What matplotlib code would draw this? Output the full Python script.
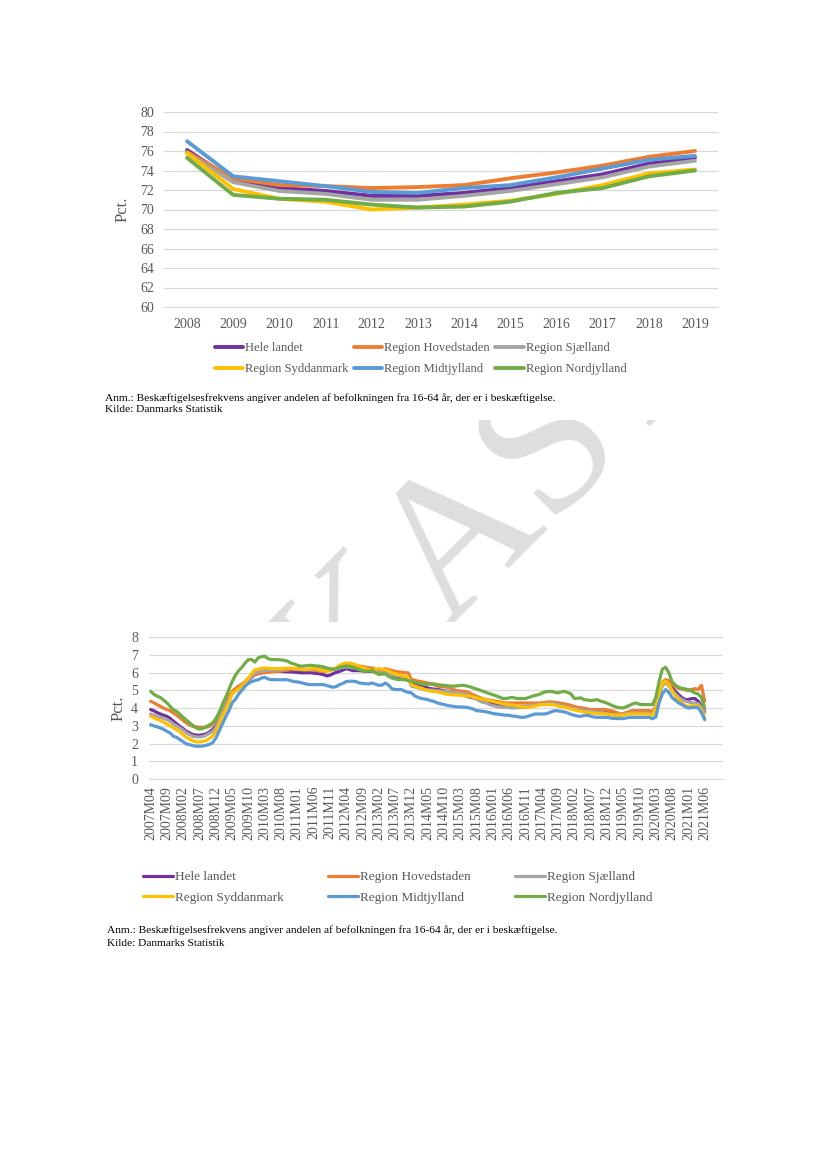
import numpy as np
import matplotlib.pyplot as plt
from matplotlib.transforms import Bbox, TransformedBbox

plt.rcParams['font.family'] = ['Liberation Serif', 'DejaVu Serif']

# --- chart 1: annual employment rate (pct.) ---
years = [str(y) for y in range(2008, 2020)]
hele_landet_aar = [76.1, 73.0, 72.2, 71.9, 71.4, 71.4, 71.7, 72.2, 72.9, 73.6, 74.7, 75.3]
hovedstaden_aar = [75.9, 73.2, 72.5, 72.4, 72.2, 72.3, 72.5, 73.2, 73.8, 74.5, 75.4, 76.0]
sjaelland_aar = [75.8, 72.8, 71.9, 71.6, 71.0, 71.0, 71.4, 71.9, 72.6, 73.3, 74.4, 75.0]
syddanmark_aar = [75.8, 72.1, 71.1, 70.8, 70.0, 70.2, 70.5, 70.9, 71.6, 72.5, 73.7, 74.1]
midtjylland_aar = [77.0, 73.4, 72.9, 72.4, 71.8, 71.7, 72.2, 72.5, 73.3, 74.2, 75.1, 75.5]
nordjylland_aar = [75.3, 71.5, 71.1, 71.0, 70.5, 70.2, 70.3, 70.8, 71.7, 72.2, 73.4, 74.0]

# --- chart 2: monthly values 2007M04 - 2021M06 ---
months = [f"{y}M{m:02d}" for y in range(2007, 2022) for m in range(1, 13)
          if (y, m) >= (2007, 4) and (y, m) <= (2021, 6)]

hele_landet = [
    3.92, 3.85, 3.75, 3.67, 3.6, 3.54, 3.42, 3.26, 3.12,
    2.97, 2.83, 2.69, 2.6, 2.5, 2.48, 2.47, 2.5, 2.54, 2.65, 2.79, 3.0,
    3.35, 3.82, 4.2, 4.5, 4.86, 5.0, 5.15, 5.3, 5.45, 5.6, 5.75, 5.9,
    5.95, 6.0, 6.05, 6.08, 6.08, 6.08, 6.08, 6.08, 6.06, 6.05, 6.05, 6.03,
    6.02, 6.0, 6.0, 6.0, 6.0, 5.98, 5.96, 5.93, 5.9, 5.82, 5.86, 5.95,
    6.02, 6.08, 6.15, 6.23, 6.18, 6.12, 6.12, 6.12, 6.1, 6.08, 6.08, 6.08,
    6.04, 6.0, 6.03, 6.08, 5.95, 5.8, 5.75, 5.7, 5.66, 5.63, 5.61, 5.42,
    5.36, 5.29, 5.25, 5.18, 5.14, 5.1, 5.07, 5.05, 5.02, 4.98, 4.95, 4.92,
    4.89, 4.86, 4.82, 4.75, 4.67, 4.62, 4.58, 4.54, 4.48, 4.42, 4.35, 4.3,
    4.27, 4.24, 4.2, 4.15, 4.1, 4.1, 4.08, 4.05, 4.05, 4.05, 4.05, 4.1,
    4.15, 4.2, 4.24, 4.26, 4.28, 4.29, 4.29, 4.27, 4.22, 4.18, 4.16, 4.12,
    4.08, 4.03, 3.97, 3.95, 3.92, 3.9, 3.86, 3.85, 3.83, 3.81, 3.79, 3.75,
    3.7, 3.65, 3.6, 3.6, 3.65, 3.7, 3.73, 3.73, 3.73, 3.73, 3.73, 3.73,
    3.72, 3.67, 4.05, 4.8, 5.33, 5.52, 5.3, 5.14, 4.95, 4.76, 4.6, 4.48,
    4.48, 4.54, 4.54, 4.39, 4.1, 3.82]
hovedstaden = [
    4.39, 4.3, 4.2, 4.1, 4.0, 3.92, 3.85, 3.73, 3.6,
    3.45, 3.3, 3.16, 3.05, 2.97, 2.94, 2.92, 2.92, 2.92, 2.97, 3.1, 3.3,
    3.65, 4.0, 4.3, 4.65, 4.95, 5.1, 5.25, 5.35, 5.5, 5.7, 5.8, 5.9,
    5.95, 5.98, 6.0, 6.02, 6.05, 6.06, 6.08, 6.1, 6.12, 6.15, 6.18, 6.18,
    6.18, 6.18, 6.18, 6.18, 6.18, 6.15, 6.12, 6.1, 6.08, 6.1, 6.15, 6.22,
    6.25, 6.31, 6.38, 6.46, 6.45, 6.42, 6.4, 6.37, 6.35, 6.31, 6.28, 6.27,
    6.2, 6.12, 6.18, 6.23, 6.18, 6.12, 6.08, 6.05, 6.03, 6.0, 6.0, 5.61,
    5.58, 5.52, 5.5, 5.45, 5.42, 5.38, 5.32, 5.24, 5.22, 5.2, 5.18, 5.12,
    5.05, 4.99, 4.97, 4.95, 4.92, 4.85, 4.75, 4.67, 4.6, 4.52, 4.48, 4.45,
    4.42, 4.39, 4.36, 4.32, 4.29, 4.29, 4.29, 4.29, 4.29, 4.29, 4.29, 4.29,
    4.29, 4.29, 4.29, 4.3, 4.32, 4.35, 4.35, 4.33, 4.3, 4.27, 4.24, 4.2,
    4.15, 4.1, 4.05, 4.02, 4.0, 3.96, 3.92, 3.92, 3.92, 3.92, 3.92, 3.9,
    3.86, 3.82, 3.75, 3.67, 3.7, 3.75, 3.82, 3.86, 3.86, 3.86, 3.86, 3.86,
    3.86, 3.82, 4.1, 4.9, 5.45, 5.61, 5.56, 5.35, 5.2, 5.12, 5.08, 5.03,
    4.99, 5.05, 5.1, 5.05, 5.29, 4.39]
sjaelland = [
    3.67, 3.6, 3.52, 3.48, 3.42, 3.35, 3.25, 3.1, 3.0,
    2.88, 2.75, 2.6, 2.5, 2.41, 2.38, 2.37, 2.4, 2.47, 2.58, 2.69, 2.9,
    3.3, 3.73, 4.1, 4.45, 4.8, 4.95, 5.1, 5.25, 5.45, 5.61, 5.8, 6.0,
    6.05, 6.1, 6.12, 6.13, 6.14, 6.15, 6.16, 6.18, 6.2, 6.22, 6.23, 6.23,
    6.21, 6.2, 6.18, 6.18, 6.18, 6.2, 6.22, 6.23, 6.2, 6.18, 6.15, 6.18,
    6.22, 6.27, 6.31, 6.31, 6.3, 6.28, 6.25, 6.23, 6.2, 6.18, 6.15, 6.1,
    6.05, 6.0, 6.02, 6.05, 5.95, 5.9, 5.85, 5.82, 5.8, 5.78, 5.75, 5.24,
    5.2, 5.15, 5.1, 5.05, 5.03, 5.02, 5.0, 4.98, 4.97, 4.96, 4.95, 4.92,
    4.9, 4.87, 4.84, 4.8, 4.76, 4.7, 4.6, 4.5, 4.4, 4.32, 4.29, 4.2,
    4.15, 4.1, 4.07, 4.05, 4.05, 4.03, 4.01, 4.02, 4.05, 4.08, 4.1, 4.12,
    4.15, 4.18, 4.2, 4.22, 4.25, 4.27, 4.27, 4.25, 4.2, 4.15, 4.1, 4.05,
    4.0, 3.97, 3.93, 3.9, 3.88, 3.85, 3.82, 3.8, 3.78, 3.76, 3.74, 3.7,
    3.66, 3.62, 3.6, 3.6, 3.65, 3.7, 3.72, 3.72, 3.72, 3.72, 3.72, 3.72,
    3.7, 3.65, 4.0, 4.7, 5.25, 5.45, 5.25, 5.0, 4.8, 4.62, 4.5, 4.4,
    4.35, 4.3, 4.3, 4.25, 4.05, 3.75]
syddanmark = [
    3.54, 3.45, 3.38, 3.3, 3.2, 3.1, 3.0, 2.88, 2.78,
    2.66, 2.5, 2.35, 2.25, 2.15, 2.1, 2.09, 2.12, 2.17, 2.28, 2.41, 2.7,
    3.1, 3.54, 3.9, 4.3, 4.86, 4.95, 5.1, 5.24, 5.45, 5.7, 5.95, 6.18,
    6.2, 6.25, 6.27, 6.25, 6.24, 6.23, 6.23, 6.23, 6.25, 6.26, 6.27, 6.25,
    6.22, 6.2, 6.18, 6.18, 6.22, 6.27, 6.2, 6.15, 6.12, 6.08, 6.12, 6.18,
    6.3, 6.42, 6.5, 6.55, 6.53, 6.5, 6.45, 6.37, 6.3, 6.23, 6.18, 6.12,
    6.18, 6.23, 6.2, 6.18, 6.1, 6.0, 5.95, 5.9, 5.85, 5.8, 5.74, 5.33,
    5.25, 5.18, 5.14, 5.06, 4.99, 4.96, 4.94, 4.92, 4.88, 4.82, 4.78, 4.76,
    4.75, 4.74, 4.73, 4.7, 4.68, 4.67, 4.62, 4.57, 4.54, 4.5, 4.46, 4.43,
    4.38, 4.33, 4.29, 4.25, 4.22, 4.2, 4.18, 4.16, 4.1, 4.05, 4.05, 4.05,
    4.08, 4.12, 4.18, 4.2, 4.2, 4.2, 4.2, 4.18, 4.12, 4.08, 4.05, 4.0,
    3.95, 3.9, 3.86, 3.82, 3.78, 3.76, 3.73, 3.72, 3.7, 3.68, 3.67, 3.66,
    3.64, 3.62, 3.6, 3.6, 3.62, 3.65, 3.67, 3.67, 3.67, 3.67, 3.67, 3.67,
    3.65, 3.6, 4.0, 4.9, 5.4, 5.52, 5.33, 5.0, 4.7, 4.5, 4.3, 4.15,
    4.1, 4.12, 4.16, 4.12, 3.9, 3.45]
midtjylland = [
    3.07, 3.0, 2.95, 2.88, 2.8, 2.69, 2.6, 2.41, 2.35,
    2.22, 2.1, 1.98, 1.94, 1.88, 1.85, 1.85, 1.86, 1.9, 1.95, 2.05, 2.3,
    2.7, 3.1, 3.5, 3.85, 4.3, 4.5, 4.8, 5.0, 5.24, 5.4, 5.5, 5.56,
    5.6, 5.7, 5.74, 5.65, 5.61, 5.61, 5.61, 5.6, 5.61, 5.6, 5.55, 5.5,
    5.48, 5.45, 5.4, 5.35, 5.33, 5.33, 5.33, 5.33, 5.33, 5.28, 5.22, 5.18,
    5.22, 5.33, 5.4, 5.5, 5.52, 5.52, 5.5, 5.42, 5.4, 5.38, 5.37, 5.42,
    5.35, 5.29, 5.3, 5.42, 5.3, 5.1, 5.05, 5.05, 5.05, 4.95, 4.9, 4.86,
    4.7, 4.61, 4.55, 4.52, 4.48, 4.42, 4.38, 4.29, 4.25, 4.2, 4.16, 4.12,
    4.1, 4.07, 4.07, 4.06, 4.05, 4.0, 3.95, 3.86, 3.84, 3.82, 3.79, 3.75,
    3.7, 3.67, 3.65, 3.62, 3.6, 3.6, 3.55, 3.54, 3.5, 3.48, 3.5, 3.55,
    3.62, 3.67, 3.67, 3.67, 3.67, 3.72, 3.8, 3.86, 3.84, 3.82, 3.78, 3.73,
    3.65, 3.6, 3.55, 3.54, 3.58, 3.6, 3.55, 3.5, 3.48, 3.48, 3.48, 3.48,
    3.45, 3.42, 3.41, 3.41, 3.41, 3.45, 3.48, 3.48, 3.48, 3.48, 3.48, 3.48,
    3.48, 3.4, 3.5, 4.3, 4.8, 5.05, 4.9, 4.6, 4.45, 4.3, 4.2, 4.08,
    4.01, 4.03, 4.05, 4.02, 3.75, 3.35]
nordjylland = [
    4.95, 4.78, 4.68, 4.6, 4.45, 4.3, 4.1, 3.9, 3.82,
    3.65, 3.48, 3.32, 3.16, 3.02, 2.88, 2.82, 2.85, 2.95, 3.05, 3.16, 3.4,
    3.75, 4.2, 4.6, 5.05, 5.5, 5.85, 6.12, 6.3, 6.55, 6.74, 6.74, 6.6,
    6.84, 6.9, 6.93, 6.8, 6.74, 6.74, 6.74, 6.72, 6.7, 6.65, 6.55, 6.5,
    6.42, 6.37, 6.38, 6.4, 6.42, 6.4, 6.38, 6.37, 6.33, 6.27, 6.23, 6.18,
    6.22, 6.31, 6.35, 6.37, 6.35, 6.31, 6.25, 6.18, 6.12, 6.08, 6.1, 6.12,
    6.0, 5.9, 5.92, 5.93, 5.8, 5.7, 5.65, 5.61, 5.61, 5.6, 5.55, 5.52,
    5.48, 5.42, 5.38, 5.33, 5.35, 5.36, 5.37, 5.33, 5.3, 5.29, 5.27, 5.25,
    5.24, 5.26, 5.28, 5.29, 5.25, 5.2, 5.14, 5.08, 5.02, 4.95, 4.88, 4.82,
    4.76, 4.7, 4.62, 4.55, 4.54, 4.58, 4.61, 4.56, 4.54, 4.54, 4.54, 4.6,
    4.67, 4.72, 4.76, 4.84, 4.92, 4.94, 4.95, 4.9, 4.86, 4.92, 4.95, 4.88,
    4.8, 4.55, 4.56, 4.58, 4.48, 4.46, 4.43, 4.45, 4.48, 4.4, 4.35, 4.28,
    4.2, 4.12, 4.05, 4.02, 4.01, 4.08, 4.16, 4.25, 4.29, 4.22, 4.2, 4.2,
    4.2, 4.2, 4.6, 5.5, 6.2, 6.31, 6.0, 5.5, 5.3, 5.18, 5.12, 5.08,
    5.05, 4.96, 4.86, 4.8, 4.6, 4.01]

names = ['Hele landet', 'Region Hovedstaden', 'Region Sjælland',
         'Region Syddanmark', 'Region Midtjylland', 'Region Nordjylland']
colors = ['#7030A0', '#ED7D31', '#A5A5A5', '#FFC000', '#5B9BD5', '#70AD47']

note = 'Anm.: Beskæftigelsesfrekvens angiver andelen af befolkningen fra 16-64 år, der er i beskæftigelse.'
source = 'Kilde: Danmarks Statistik'

grey = '#595959'
W, H = 827, 1169


def box(l, t, r, b):
    # page pixels -> figure fraction
    return [l / W, 1 - b / H, (r - l) / W, (b - t) / H]


fig = plt.figure(figsize=(W / 100, H / 100), dpi=100)

# watermark, only visible in the gap between the two charts
wm = fig.text(392 / W, 1 - 612 / H, 'UDKAST', fontsize=145, color='#dedede',
              rotation=45, rotation_mode='anchor', ha='center', va='center', zorder=0)
wm.set_clip_box(TransformedBbox(Bbox([[0, 1 - 622 / H], [1, 1 - 420 / H]]), fig.transFigure))


def style(ax, lblx):
    for s in ['top', 'right', 'left']:
        ax.spines[s].set_visible(False)
    ax.spines['bottom'].set_color('#d9d9d9')
    ax.grid(axis='y', color='#d9d9d9', lw=0.9)
    ax.set_axisbelow(True)
    ax.tick_params(length=0, labelsize=10, labelcolor=grey)
    ax.set_ylabel('Pct.', fontsize=12, color=grey)
    ax.yaxis.set_label_coords(lblx, 0.5)


def legend(lines, x, y, size, hlen, colsp, rowsp):
    order = [0, 3, 1, 4, 2, 5]
    fig.legend([lines[i] for i in order], [names[i] for i in order], ncol=3,
               loc='upper left', bbox_to_anchor=(x / W, 1 - y / H), frameon=False,
               fontsize=size, labelcolor=grey, handlelength=hlen, handletextpad=0.16,
               columnspacing=colsp, labelspacing=rowsp, borderpad=0, borderaxespad=0)


# chart 1
ax1 = fig.add_axes(box(164, 112, 718, 307))
x1 = np.arange(len(years))
lines1 = []
for vals, name, col in zip([hele_landet_aar, hovedstaden_aar, sjaelland_aar,
                            syddanmark_aar, midtjylland_aar, nordjylland_aar], names, colors):
    ln, = ax1.plot(x1, vals, color=col, lw=2.8, label=name, solid_capstyle='round')
    lines1.append(ln)
ax1.set_xlim(-0.5, len(years) - 0.5)
ax1.set_ylim(60, 80)
ax1.set_yticks(range(60, 81, 2))
ax1.set_xticks(x1)
ax1.set_xticklabels(years)
style(ax1, (131 - 164) / 554)
ax1.tick_params(axis='y', pad=7)
ax1.tick_params(axis='x', pad=8)
legend(lines1, 215, 342, 9.1, 2.25, 0.4, 0.73)

fig.text(105 / W, 1 - 398 / H, note, fontsize=8.2, va='center')
fig.text(105 / W, 1 - 410 / H, source, fontsize=8.2, va='center')

# chart 2
ax2 = fig.add_axes(box(149, 637.3, 722.6, 779))
x2 = np.arange(len(months))
lines2 = []
for vals, name, col in zip([hele_landet, hovedstaden, sjaelland,
                            syddanmark, midtjylland, nordjylland], names, colors):
    ln, = ax2.plot(x2, vals, color=col, lw=2.3, label=name, solid_capstyle='round')
    lines2.append(ln)
ax2.set_xlim(-0.5, 175.5)
ax2.set_ylim(0, 8)
ax2.set_yticks(range(0, 9))
ax2.set_xticks(x2[::5])
ax2.set_xticklabels(months[::5], rotation=90, fontsize=9.5)
style(ax2, (127 - 149) / 573.6)
ax2.tick_params(axis='y', pad=8)
ax2.tick_params(axis='x', pad=5)
legend(lines2, 143, 871, 9.5, 2.27, 3.35, 0.65)

fig.text(107 / W, 1 - 930 / H, note, fontsize=8.2, va='center')
fig.text(107 / W, 1 - 943 / H, source, fontsize=8.2, va='center')

fig.savefig('out.png', dpi=100)
